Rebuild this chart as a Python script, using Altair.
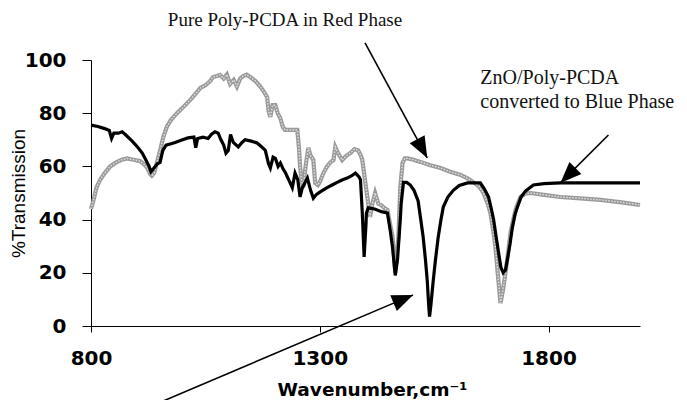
import math
import altair as alt
import pandas as pd

# ---- data ----
black_w = [800, 815, 830, 840, 845, 850, 860, 868, 875, 890, 903, 912, 920, 927, 931, 936, 945, 951, 957, 964,
           975, 984, 1000, 1012, 1025, 1029, 1033, 1045, 1056, 1063, 1071, 1078, 1084, 1090, 1095, 1100, 1105,
           1111, 1122, 1130, 1137, 1150, 1163, 1172, 1181, 1188, 1192, 1198, 1203, 1209, 1214, 1220, 1224, 1232,
           1240, 1246, 1252, 1257, 1262, 1273, 1280, 1286, 1293, 1301, 1316, 1327, 1338, 1350, 1360, 1370, 1378,
           1386, 1389, 1393, 1397, 1401, 1402, 1406, 1420, 1435, 1448, 1454, 1459, 1465, 1470, 1472, 1476, 1478,
           1483, 1490, 1498, 1506, 1515, 1520, 1526, 1531, 1535, 1538, 1540, 1543, 1548, 1553, 1559, 1565, 1570,
           1580, 1592, 1605, 1623, 1651, 1660, 1669, 1675, 1680, 1686, 1691, 1696, 1701, 1706, 1710, 1716, 1721,
           1727, 1732, 1740, 1750, 1767, 1790, 1826, 1900, 2000]
black_t = [75.5, 75, 74.2, 73.5, 70.5, 72.5, 72.5, 73, 72, 69.5, 67, 65, 62.4, 60, 58, 59, 61, 61.5, 66, 68,
           68.5, 69, 70, 70.7, 71, 67, 70.5, 71, 70.5, 72, 73, 72.5, 70, 68, 65, 66, 72,
           69, 67.3, 69, 70, 69.5, 68.8, 67.5, 66, 61, 59.4, 63.5, 63, 60, 61.3, 59, 58, 55,
           52, 57.5, 55, 48.5, 52, 55.6, 51, 48, 49.5, 50.4, 52, 53, 54, 55, 55.6, 56.5, 57.5,
           56, 55, 42.5, 26, 38, 42.5, 44.4, 44, 43, 42.5, 36, 29.7, 19, 25, 30, 40, 46,
           54, 54, 53, 51, 47, 41, 33.5, 25, 17, 8, 3.5, 8, 17, 25, 33.5, 40, 44.7,
           48.5, 51, 52.8, 53.8, 53.8, 51.5, 48.5, 44, 40, 33, 27.4, 22, 20, 21, 24.8, 31, 37,
           42, 44.7, 48.5, 50.8, 53, 53.5, 53.8, 53.8, 53.8]

gray_w = [800, 805, 812, 820, 830, 842, 855, 867, 879, 893, 907, 915, 923, 930, 933, 938, 945, 951, 958, 966,
          975, 988, 1000, 1017, 1027, 1039, 1050, 1060, 1067, 1075, 1082, 1090, 1097, 1104, 1112, 1119, 1126,
          1133, 1140, 1148, 1160, 1170, 1178, 1185, 1188, 1192, 1197, 1203, 1208, 1214, 1219, 1224, 1240, 1251,
          1255, 1257, 1260, 1264, 1269, 1275, 1280, 1286, 1290, 1296, 1301, 1308, 1316, 1323, 1330, 1334, 1340,
          1349, 1358, 1367, 1376, 1384, 1390, 1393, 1398, 1404, 1410, 1415, 1421, 1428, 1434, 1439, 1448, 1454,
          1459, 1463, 1465, 1468, 1472, 1476, 1481, 1486, 1492, 1505, 1520, 1540, 1564, 1585, 1608, 1625, 1636,
          1648, 1658, 1667, 1673, 1679, 1684, 1690, 1695, 1700, 1706, 1712, 1717, 1723, 1728, 1734, 1739, 1750,
          1761, 1790, 1826, 1870, 1914, 1960, 2000]
gray_t = [44, 47, 52, 55, 57.5, 60, 61.5, 62.5, 63, 62.5, 62, 61, 59.4, 57, 56.5, 57.5, 62, 66, 71, 75,
          77.5, 80, 82, 85, 87, 89.5, 90.5, 92, 93.6, 94, 94.4, 93, 94.5, 91, 92.5, 90, 93,
          94, 94.5, 93.6, 92, 90, 88, 86, 81, 78.6, 83, 83, 80, 78, 75, 73.7, 73.7, 73.7,
          66, 60, 55, 52, 60, 67, 64, 62.4, 53.8, 53, 54.5, 57.5, 60, 61.5, 62.4, 67.3, 65,
          62.4, 64, 65, 66.5, 66, 64, 62.4, 56, 48.5, 41, 46, 50, 46, 45.5, 44.7, 43.6, 38,
          33.5, 25, 20, 26, 33.5, 52, 61.3, 63, 63, 62.5, 61.7, 60.5, 59.4, 58, 56.8, 55.3, 54,
          52.5, 50, 46, 42.5, 36, 29.7, 18, 8.6, 13, 20, 28, 35, 40, 43.6, 46.5, 48.5, 49.8,
          50, 49.3, 48.5, 48, 47.4, 46.5, 45.5]

x_ticks = [800, 1300, 1800]
y_ticks = [0, 20, 40, 60, 80, 100]

# annotations (in data coordinates)
arrow_x1 = [1399, 1931, 940]
arrow_y1 = [106.4, 71.8, -29.5]
arrow_x2 = [1535, 1826, 1504]
arrow_y2 = [63.2, 53.8, 11.7]

label_text = ["Pure Poly-PCDA in Red Phase", "ZnO/Poly-PCDA", "converted to Blue Phase"]
label_x = [1224, 1651, 1651]
label_y = [112.8, 91.0, 82.0]
label_align = ["center", "left", "left"]

# ---- layout ----
W, H = 549, 266
XMIN, XMAX, YMIN, YMAX = 800, 2000, 0, 100
px_per_x = W / (XMAX - XMIN)
px_per_y = H / (YMAX - YMIN)

df_black = pd.DataFrame({"w": black_w, "t": black_t})
df_gray = pd.DataFrame({"w": gray_w, "t": gray_t})

angles = []
for a, b, c, d in zip(arrow_x1, arrow_y1, arrow_x2, arrow_y2):
    dx = (c - a) * px_per_x
    dy = -(d - b) * px_per_y
    angles.append(math.degrees(math.atan2(dx, -dy)) % 360)
df_arrows = pd.DataFrame({"w": arrow_x1, "t": arrow_y1, "w2": arrow_x2, "t2": arrow_y2, "ang": angles})
df_heads = pd.DataFrame({"w": arrow_x2, "t": arrow_y2, "ang": angles})

df_labels = pd.DataFrame({"txt": label_text, "w": label_x, "t": label_y, "al": label_align})

xscale = alt.Scale(domain=[XMIN, XMAX], nice=False, zero=False)
yscale = alt.Scale(domain=[YMIN, YMAX], nice=False)

x_axis = alt.Axis(values=x_ticks, format="d", labelFlush=False, title="Wavenumber,cm\u207b\u00b9", grid=False,
                  tickSize=6,
                  labelFont="DejaVu Sans", labelFontWeight="bold", labelFontSize=20, labelPadding=16,
                  labelColor="black", domainColor="black", tickColor="black",
                  titleFont="DejaVu Sans", titleFontWeight="bold", titleFontSize=18.5, titleColor="black",
                  titleX=281, titleY=63, titleAlign="center", titleBaseline="middle")
y_axis = alt.Axis(values=y_ticks, format="d", title="%Transmission", grid=False, tickSize=9,
                  labelFont="DejaVu Sans", labelFontWeight="bold", labelFontSize=20, labelPadding=16,
                  labelColor="black", domainColor="black", tickColor="black",
                  titleFont="Liberation Sans", titleFontWeight="normal", titleFontSize=19, titleColor="black",
                  titleX=-73, titleY=133, titleAngle=270, titleAlign="center", titleBaseline="middle")

X = alt.X("w:Q", scale=xscale, axis=x_axis)
Y = alt.Y("t:Q", scale=yscale, axis=y_axis)

gray_base = alt.Chart(df_gray).mark_line(color="#9a9a9a", strokeWidth=4.2).encode(x=X, y=Y, order="w:Q")
gray_tex = alt.Chart(df_gray).mark_line(color="#e2e2e2", strokeWidth=1.4, strokeDash=[1.5, 1.5]).encode(
    x=X, y=Y, order="w:Q")
black_line = alt.Chart(df_black).mark_line(color="black", strokeWidth=3.2).encode(x=X, y=Y, order="w:Q")
arrow_lines = alt.Chart(df_arrows).mark_rule(color="black", strokeWidth=1.6).encode(
    x=X, y=Y, x2="w2:Q", y2="t2:Q")
arrow_heads = alt.Chart(df_heads).mark_point(
    shape="M0,0 L-0.4,1 L0.4,1 Z", filled=True, color="black", opacity=1, size=1800, strokeWidth=0
).encode(x=X, y=Y, angle=alt.Angle("ang:Q", scale=None))
labels_center = alt.Chart(df_labels[df_labels.al == "center"]).mark_text(
    font="Liberation Serif", fontSize=19, align="center", baseline="alphabetic", color="#111111"
).encode(x=X, y=Y, text="txt:N")
labels_left = alt.Chart(df_labels[df_labels.al == "left"]).mark_text(
    font="Liberation Serif", fontSize=20, align="left", baseline="alphabetic", color="#111111"
).encode(x=X, y=Y, text="txt:N")

chart = alt.layer(gray_base, gray_tex, black_line, arrow_lines, arrow_heads, labels_center, labels_left).properties(
    width=W, height=H,
    padding={"left": 91, "top": 60, "right": 47, "bottom": 74},
    autosize=alt.AutoSizeParams(type="none"),
    background="white",
).configure_view(stroke=None)

chart.save("out.html", embed_options={"renderer": "svg", "actions": False})
